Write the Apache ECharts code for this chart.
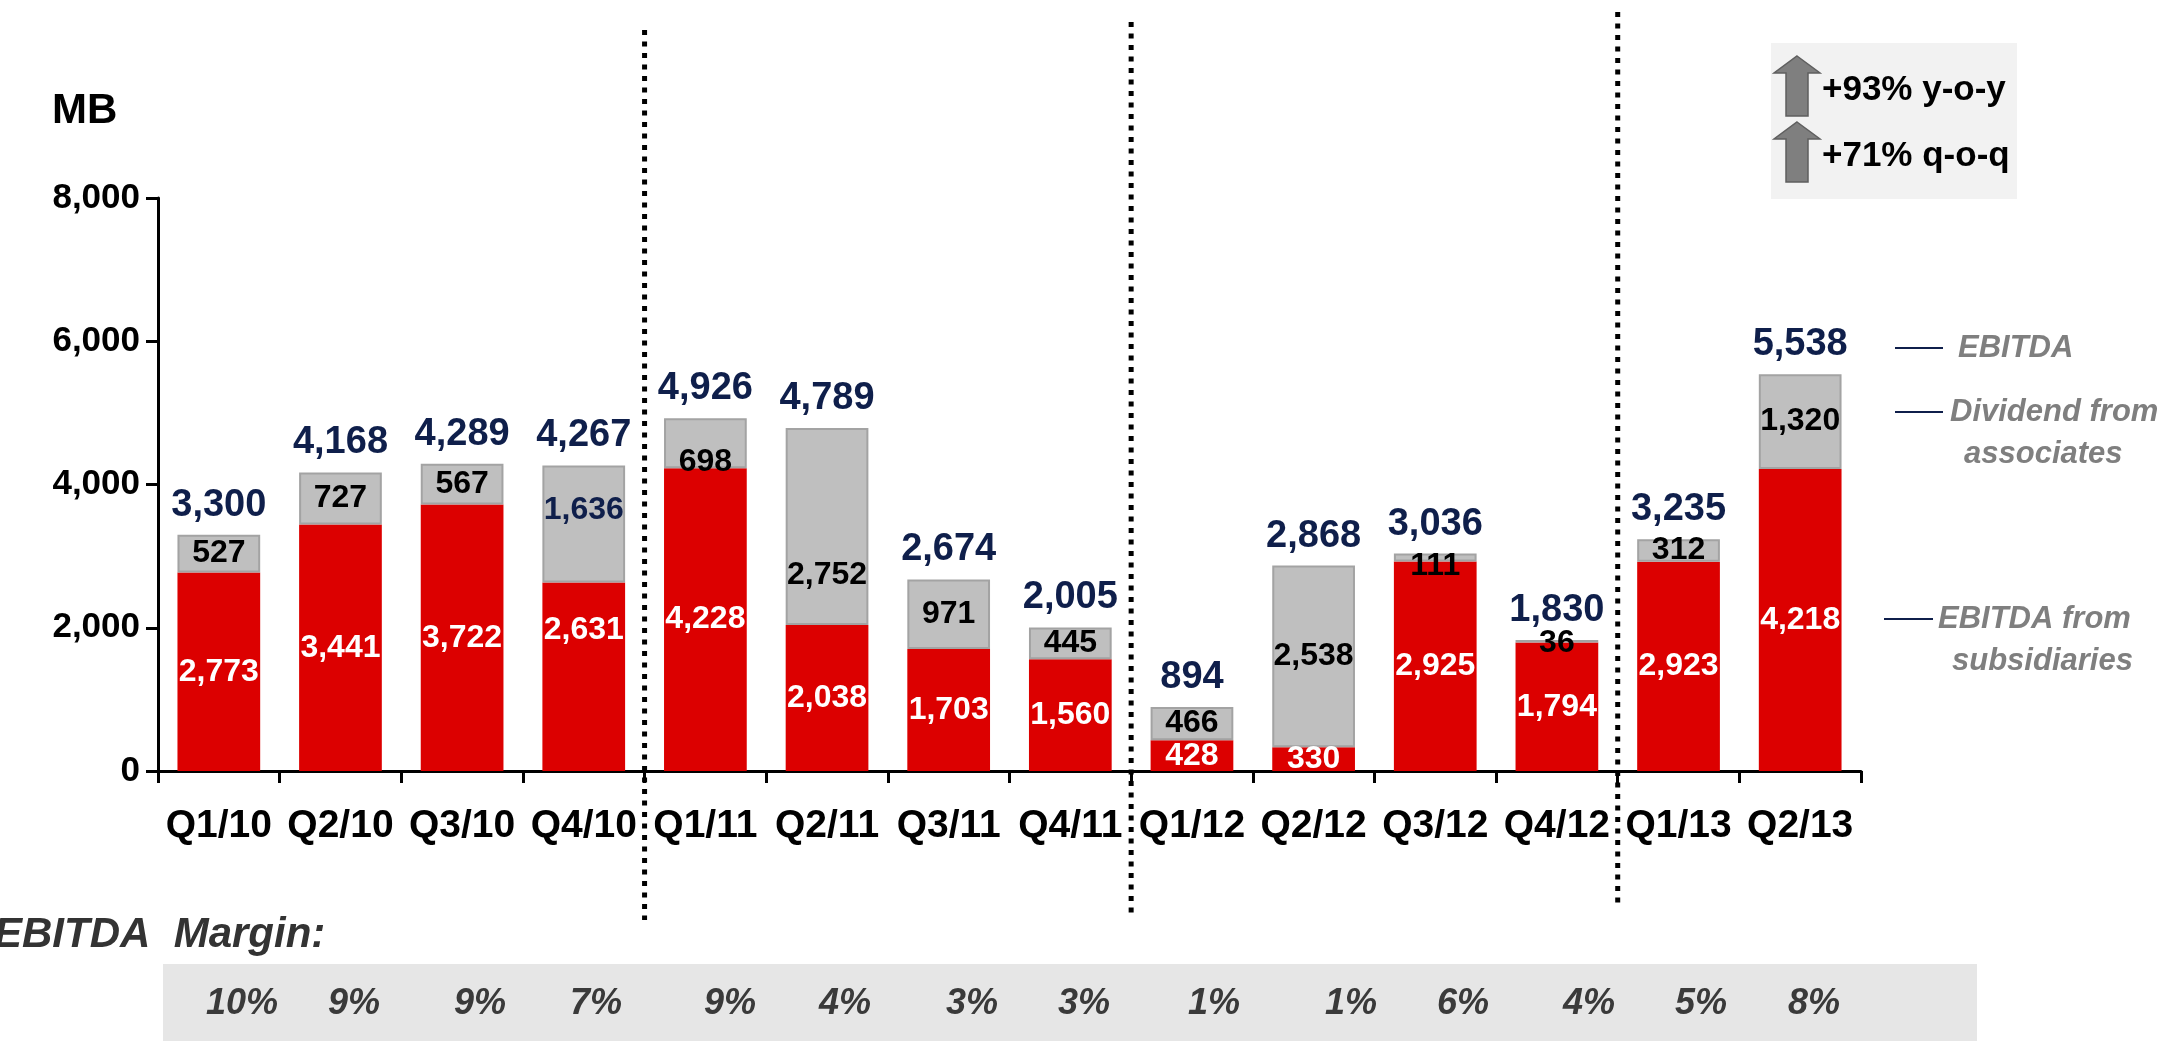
<!DOCTYPE html>
<html>
<head>
<meta charset="utf-8">
<script src="https://cdn.jsdelivr.net/npm/echarts@6/dist/echarts.min.js"></script>
<style>
  html, body { margin: 0; padding: 0; background: #ffffff; }
  #main { width: 2168px; height: 1041px; }
</style>
</head>
<body>
<div id="main"></div>
<script>
// Quarterly EBITDA build-up (MB)
const quarters = ['Q1/10', 'Q2/10', 'Q3/10', 'Q4/10', 'Q1/11', 'Q2/11', 'Q3/11', 'Q4/11',
                  'Q1/12', 'Q2/12', 'Q3/12', 'Q4/12', 'Q1/13', 'Q2/13'];
const subsidiaries = [2773, 3441, 3722, 2631, 4228, 2038, 1703, 1560, 428, 330, 2925, 1794, 2923, 4218];
const dividends = [527, 727, 567, 1636, 698, 2752, 971, 445, 466, 2538, 111, 36, 312, 1320];
const totals = [3300, 4168, 4289, 4267, 4926, 4789, 2674, 2005, 894, 2868, 3036, 1830, 3235, 5538];
const margins = ['10%', '9%', '9%', '7%', '9%', '4%', '3%', '3%', '1%', '1%', '6%', '4%', '5%', '8%'];
const yTicks = [0, 2000, 4000, 6000, 8000];
const growth = ['+93% y-o-y', '+71% q-o-q'];
const yearBreaks = [3, 7, 11]; // dotted separators after these quarters

// Styling / layout
const SANS = '"Liberation Sans", Arial, Helvetica, sans-serif';
const RED = '#dc0000';
const GREY = '#bfbfbf';
const NAVY = '#0f1f4b';
const LEGEND_GREY = '#7f7f7f';
const marginX = [242, 354, 480, 596, 730, 845, 972, 1084, 1214, 1351, 1463, 1589, 1701, 1814];
const breakTop = [30, 22, 12];
const breakBottom = [920, 913, 906];

// label nudges for a few segments whose values sit off-centre
const subsOffset = { 3: [0, -47] };
const divOffset = { 3: [0, -14], 4: [0, 19], 5: [0, 49], 10: [0, 9], 11: [0, 2] };
const divColor = { 3: NAVY };

const fmt = v => v.toLocaleString('en-US');

const chart = echarts.init(document.getElementById('main'), null, { renderer: 'canvas' });

const option = {
  animation: false,
  backgroundColor: '#ffffff',
  grid: { left: 158, right: 307, top: 198, bottom: 270, containLabel: false },
  xAxis: {
    type: 'category',
    data: quarters,
    axisLine: { lineStyle: { color: '#000', width: 3 } },
    axisTick: { show: true, length: 12, lineStyle: { color: '#000', width: 3 } },
    axisLabel: { color: '#000', fontFamily: SANS, fontWeight: 'bold', fontSize: 39, margin: 36, interval: 0 }
  },
  yAxis: {
    type: 'value',
    min: yTicks[0],
    max: yTicks[yTicks.length - 1],
    interval: yTicks[1] - yTicks[0],
    splitLine: { show: false },
    axisLine: { show: true, lineStyle: { color: '#000', width: 3 } },
    axisTick: { show: true, length: 12, lineStyle: { color: '#000', width: 3 } },
    axisLabel: { color: '#000', fontFamily: SANS, fontWeight: 'bold', fontSize: 35, margin: 18,
                 formatter: v => fmt(v) }
  },
  series: [
    {
      name: 'EBITDA from subsidiaries',
      type: 'bar',
      stack: 'ebitda',
      barCategoryGap: '32%',
      itemStyle: { color: RED },
      data: subsidiaries.map((v, i) => ({
        value: v,
        label: subsOffset[i] ? { offset: subsOffset[i] } : undefined
      })),
      label: {
        show: true, position: 'inside', color: '#fff', fontFamily: SANS, fontWeight: 'bold', fontSize: 32,
        formatter: p => fmt(p.value)
      }
    },
    {
      name: 'Dividend from associates',
      type: 'bar',
      stack: 'ebitda',
      itemStyle: { color: GREY, borderColor: '#a3a3a3', borderWidth: 2 },
      data: dividends.map((v, i) => {
        const lab = {};
        if (divOffset[i]) lab.offset = divOffset[i];
        if (divColor[i]) lab.color = divColor[i];
        return { value: v, label: lab };
      }),
      label: {
        show: true, position: 'inside', color: '#000', fontFamily: SANS, fontWeight: 'bold', fontSize: 32,
        formatter: p => fmt(p.value)
      }
    },
    {
      name: 'EBITDA',
      type: 'line',
      data: totals,
      symbol: 'circle',
      symbolSize: 1,
      itemStyle: { color: 'rgba(0,0,0,0)' },
      lineStyle: { opacity: 0 },
      z: 5,
      label: {
        show: true, position: 'top', distance: 10, color: NAVY, fontFamily: SANS, fontWeight: 'bold', fontSize: 38,
        formatter: p => fmt(p.value)
      }
    }
  ]
};

chart.setOption(option);

// Overlay: separators, annotations, growth box and margin strip
const graphics = [];

yearBreaks.forEach((idx, k) => {
  const x = (chart.convertToPixel({ xAxisIndex: 0 }, idx) + chart.convertToPixel({ xAxisIndex: 0 }, idx + 1)) / 2;
  graphics.push({
    type: 'line', z: 10,
    shape: { x1: x, y1: breakTop[k], x2: x, y2: breakBottom[k] },
    style: { stroke: '#000', lineWidth: 5, lineDash: [5, 6.5] }
  });
});

// unit label
graphics.push({
  type: 'text', x: 52, y: 111,
  style: { text: 'MB', font: 'bold 42px ' + SANS, fill: '#000', textVerticalAlign: 'middle' }
});

// series call-outs on the right
const callouts = [
  { lines: ['EBITDA'], y: 348, x1: 1895, x2: 1943, tx: 1958 },
  { lines: ['Dividend from', 'associates'], y: 412, x1: 1895, x2: 1943, tx: 1950 },
  { lines: ['EBITDA from', 'subsidiaries'], y: 619, x1: 1884, x2: 1933, tx: 1938 }
];
callouts.forEach(c => {
  graphics.push({ type: 'line', shape: { x1: c.x1, y1: c.y, x2: c.x2, y2: c.y },
                  style: { stroke: NAVY, lineWidth: 2 } });
  c.lines.forEach((t, j) => {
    graphics.push({
      type: 'text', x: c.tx + (j > 0 ? 14 : 0), y: c.y + j * 42,
      style: { text: t, font: 'italic bold 31px ' + SANS, fill: LEGEND_GREY, textVerticalAlign: 'middle' }
    });
  });
});

// growth box
graphics.push({ type: 'rect', shape: { x: 1771, y: 43, width: 246, height: 156 }, style: { fill: '#f2f2f2' } });
growth.forEach((t, j) => {
  const cy = 86 + j * 66;
  const cx = 1797;
  const w = 46, h = 60, sw = 22, hh = 17;
  const top = cy - h / 2;
  graphics.push({
    type: 'polygon',
    shape: { points: [
      [cx, top], [cx + w / 2, top + hh], [cx + sw / 2, top + hh], [cx + sw / 2, top + h],
      [cx - sw / 2, top + h], [cx - sw / 2, top + hh], [cx - w / 2, top + hh]
    ] },
    style: { fill: '#7f7f7f', stroke: '#5f5f5f', lineWidth: 1.5 }
  });
  graphics.push({
    type: 'text', x: 1822, y: cy + 4,
    style: { text: t, font: 'bold 35px ' + SANS, fill: '#000', textVerticalAlign: 'middle' }
  });
});

// EBITDA margin strip
graphics.push({
  type: 'text', x: -6, y: 935,
  style: { text: 'EBITDA  Margin:', font: 'italic bold 42px ' + SANS, fill: '#333', textVerticalAlign: 'middle' }
});
graphics.push({ type: 'rect', shape: { x: 163, y: 964, width: 1814, height: 80 }, style: { fill: '#e6e6e6' } });
margins.forEach((m, i) => {
  graphics.push({
    type: 'text', x: marginX[i], y: 1004,
    style: { text: m, font: 'italic bold 36px ' + SANS, fill: '#3a3a3a', textAlign: 'center', textVerticalAlign: 'middle' }
  });
});

chart.setOption({ graphic: graphics });
</script>
</body>
</html>
